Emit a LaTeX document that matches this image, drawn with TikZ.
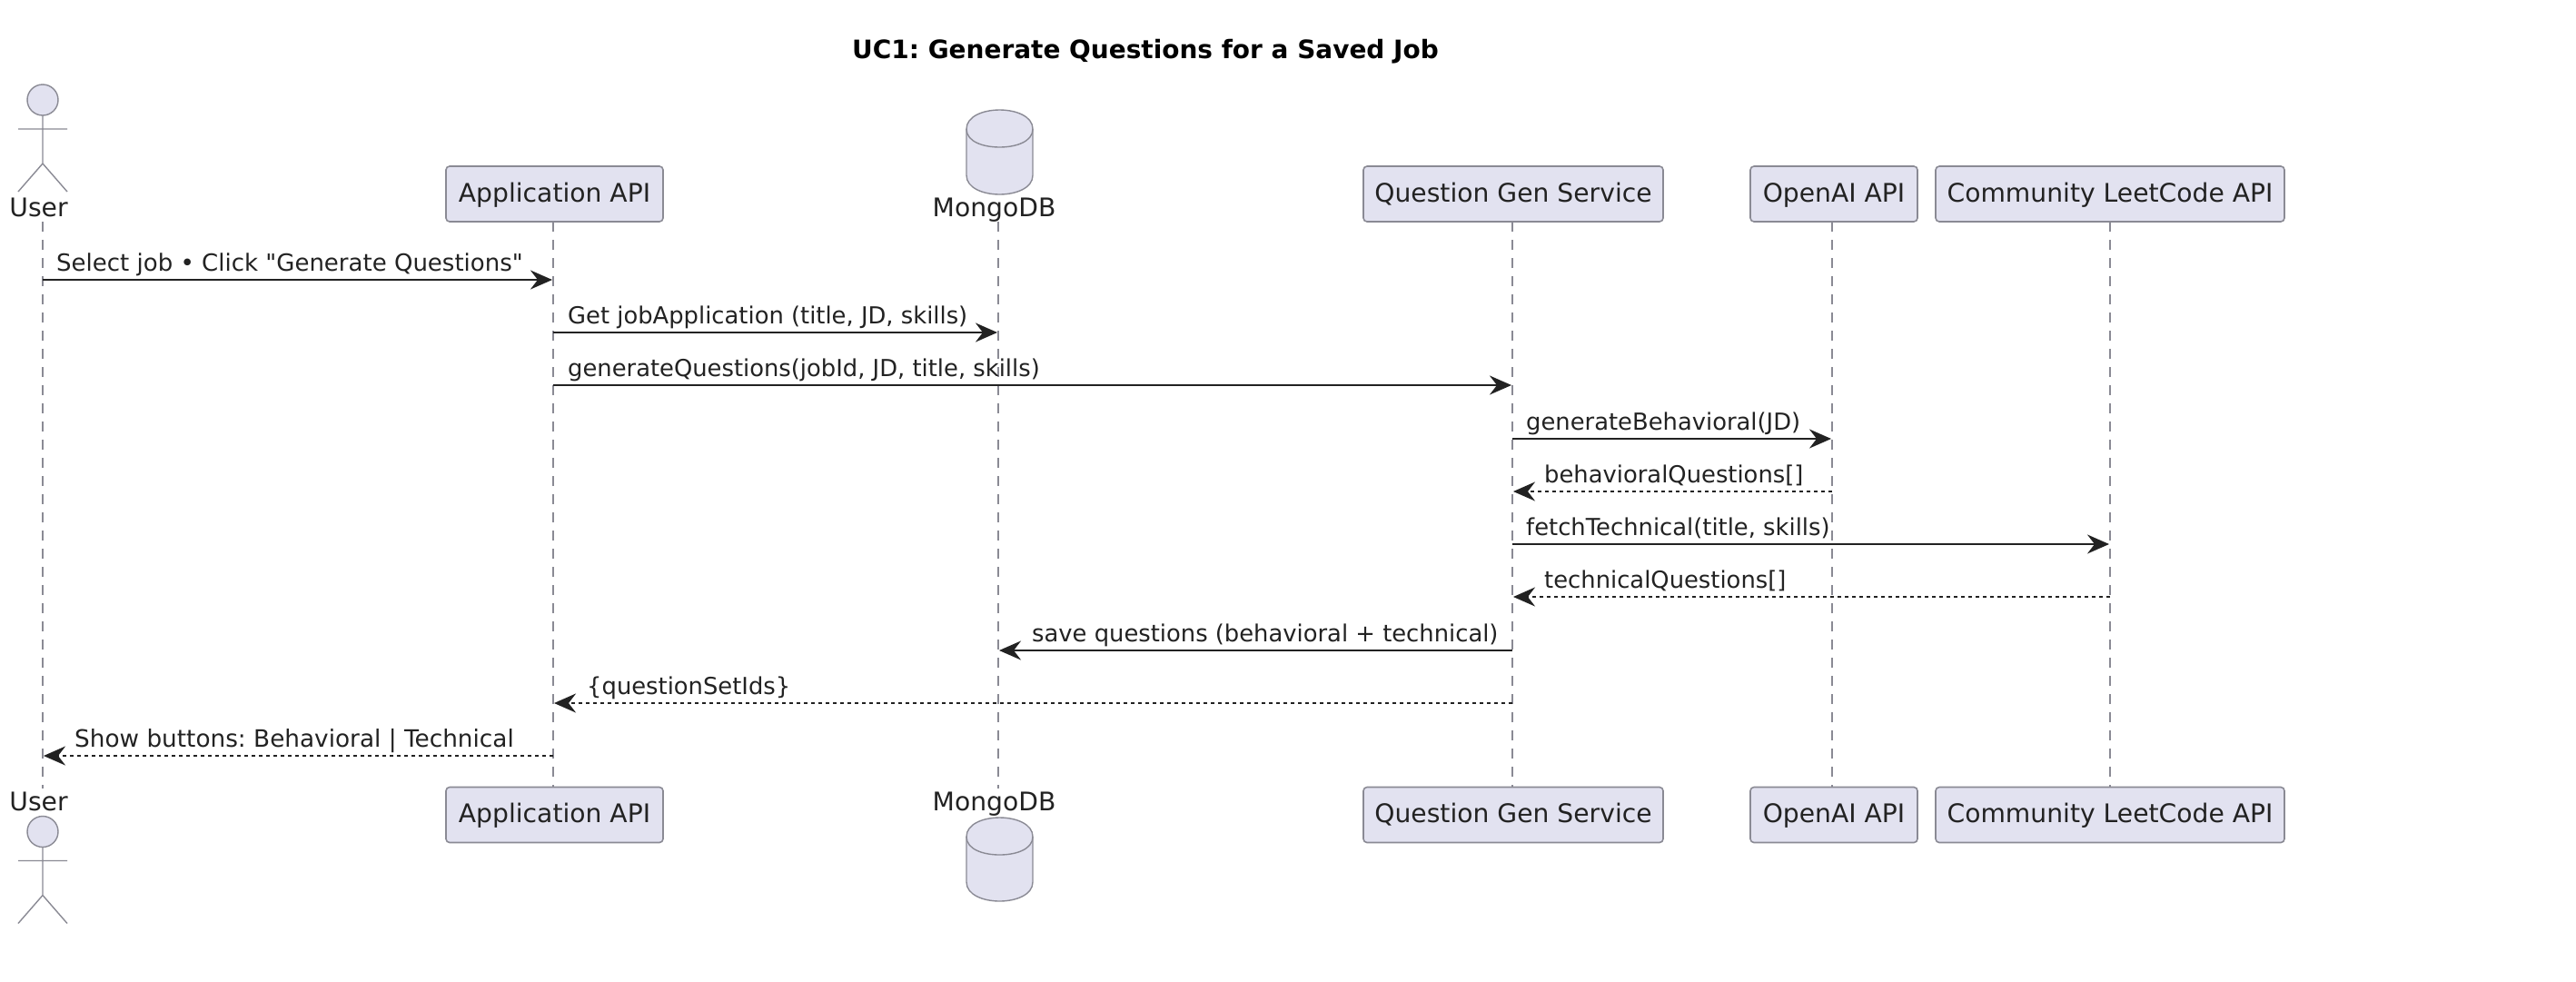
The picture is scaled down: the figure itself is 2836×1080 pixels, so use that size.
\documentclass[tikz,border=0pt]{standalone}
\usepackage{fontspec}
\setmainfont{DejaVu Sans}
\newfontfamily\plainfont{DejaVu Sans}
\usetikzlibrary{arrows.meta}
\definecolor{pfill}{HTML}{E2E2F0}
\definecolor{pline}{HTML}{222222}
\definecolor{pgrey}{HTML}{8A8A94}
\tikzset{
  x=1pt,y=-1pt,
  pbox/.style={draw=pgrey,line width=1.6pt,fill=pfill,rounded corners=4pt,inner sep=0pt,
    font=\fontsize{28.2pt}{32pt}\selectfont\plainfont,text=pline,text height=19pt,text depth=2pt,minimum height=61pt},
  plabel/.style={inner sep=0pt,anchor=base,font=\fontsize{28.2pt}{32pt}\selectfont\plainfont,text=pline},
  msg/.style={inner sep=0pt,anchor=base west,font=\fontsize{25.8pt}{30pt}\selectfont\plainfont,text=pline},
  lifeline/.style={draw=pgrey,line width=1.5pt,dash pattern=on 11pt off 9pt},
  shape line/.style={draw=pgrey,line width=1.4pt,fill=pfill},
  call/.style={draw=pline,line width=2pt,-{Stealth[length=24pt,width=21pt,inset=8pt]}},
  reply/.style={call,dash pattern=on 4pt off 4pt},
}
\newcommand{\actorfig}[2]{% x, head centre y
  \draw[shape line] (#1,#2) ellipse (17pt and 17pt);
  \draw[shape line,fill=none] (#1,#2+17) -- (#1,#2+70) (#1-27,#2+32) -- (#1+27,#2+32)
     (#1-27,#2+101) -- (#1,#2+70) -- (#1+27,#2+101);
}
\newcommand{\dbfig}[3]{% x centre, top y, bottom y
  \draw[shape line] (#1-36.5,#2+21) -- (#1-36.5,#3-21)
     .. controls (#1-36.5,#3-7) and (#1-18,#3) .. (#1,#3)
     .. controls (#1+18,#3) and (#1+36.5,#3-7) .. (#1+36.5,#3-21)
     -- (#1+36.5,#2+21)
     .. controls (#1+36.5,#2+7) and (#1+18,#2) .. (#1,#2)
     .. controls (#1-18,#2) and (#1-36.5,#2+7) .. (#1-36.5,#2+21) -- cycle;
  \draw[shape line,fill=none] (#1-36.5,#2+21)
     .. controls (#1-36.5,#2+35) and (#1-18,#2+41) .. (#1,#2+41)
     .. controls (#1+18,#2+41) and (#1+36.5,#2+35) .. (#1+36.5,#2+21);
}
\begin{document}
\begin{tikzpicture}[execute at begin node=\frenchspacing]
\useasboundingbox (0,0) rectangle (2836,1080);
\fill[white] (0,0) rectangle (2836,1080);

\node[inner sep=0pt,anchor=base,font=\fontsize{27.95pt}{32pt}\selectfont\plainfont\bfseries] (title) at (1261,64) {UC1: Generate Questions for a Saved Job};

% lifeline ends
\coordinate (userT) at (47,244);   \coordinate (userB) at (47,868);
\coordinate (appT)  at (609,244);  \coordinate (appB)  at (609,866);
\coordinate (dbT)   at (1099,244); \coordinate (dbB)   at (1099,868);
\coordinate (qT)    at (1665,244); \coordinate (qB)    at (1665,866);
\coordinate (oaT)   at (2017,244); \coordinate (oaB)   at (2017,866);
\coordinate (lcT)   at (2323,244); \coordinate (lcB)   at (2323,866);
\draw[lifeline] (userT) -- (userB);
\draw[lifeline] (appT) -- (appB);
\draw[lifeline] (dbT) -- (dbB);
\draw[lifeline] (qT) -- (qB);
\draw[lifeline] (oaT) -- (oaB);
\draw[lifeline] (lcT) -- (lcB);

% top participants
\actorfig{47}{110}
\node[plabel] (userTop) at (42.5,238) {User};
\dbfig{1100.5}{121}{214}
\node[plabel] (dbTop) at (1094.5,238) {MongoDB};
\node[pbox,minimum width=239pt] (appBoxT) at (610.5,213.5) {Application API};
\node[pbox,minimum width=330pt] (qBoxT) at (1666,213.5) {Question Gen Service};
\node[pbox,minimum width=184pt] (oaBoxT) at (2019,213.5) {OpenAI API};
\node[pbox,minimum width=384pt] (lcBoxT) at (2323,213.5) {Community LeetCode API};

% bottom participants
\node[plabel] (userBot) at (42.5,892.5) {User};
\actorfig{47}{915.5}
\node[plabel] (dbBot) at (1094.5,892.5) {MongoDB};
\dbfig{1100.5}{900}{992}
\node[pbox,minimum width=239pt] (appBoxB) at (610.5,897) {Application API};
\node[pbox,minimum width=330pt] (qBoxB) at (1666,897) {Question Gen Service};
\node[pbox,minimum width=184pt] (oaBoxB) at (2019,897) {OpenAI API};
\node[pbox,minimum width=384pt] (lcBoxB) at (2323,897) {Community LeetCode API};

% messages
\coordinate (a1s) at (47,308);    \coordinate (a1e) at (608,308);
\coordinate (a2s) at (609,366);   \coordinate (a2e) at (1098,366);
\coordinate (a3s) at (609,424);   \coordinate (a3e) at (1664,424);
\coordinate (a4s) at (1665,483);  \coordinate (a4e) at (2016,483);
\coordinate (a5s) at (2017,541);  \coordinate (a5e) at (1666,541);
\coordinate (a6s) at (1665,599);  \coordinate (a6e) at (2322,599);
\coordinate (a7s) at (2323,657);  \coordinate (a7e) at (1666,657);
\coordinate (a8s) at (1665,716);  \coordinate (a8e) at (1100,716);
\coordinate (a9s) at (1665,774);  \coordinate (a9e) at (610,774);
\coordinate (a10s) at (609,832);  \coordinate (a10e) at (48,832);
\draw[call] (a1s) -- (a1e);
\draw[call] (a2s) -- (a2e);
\draw[call] (a3s) -- (a3e);
\draw[call] (a4s) -- (a4e);
\draw[reply] (a5s) -- (a5e);
\draw[call] (a6s) -- (a6e);
\draw[reply] (a7s) -- (a7e);
\draw[call] (a8s) -- (a8e);
\draw[reply] (a9s) -- (a9e);
\draw[reply] (a10s) -- (a10e);
\node[msg,font=\fontsize{26pt}{30pt}\selectfont\plainfont] (m1) at (62,298.5) {Select job • Click "Generate Questions"};
\node[msg] (m2) at (625,356.5) {Get jobApplication (title, JD, skills)};
\node[msg] (m3) at (625,414.5) {generateQuestions(jobId, JD, title, skills)};
\node[msg] (m4) at (1680,473.5) {generateBehavioral(JD)};
\node[msg] (m5) at (1700,531.5) {behavioralQuestions[]};
\node[msg] (m6) at (1680,589.5) {fetchTechnical(title, skills)};
\node[msg] (m7) at (1700,647.5) {technicalQuestions[]};
\node[msg] (m8) at (1136,706.5) {save questions (behavioral + technical)};
\node[msg] (m9) at (646,764.5) {\{questionSetIds\}};
\node[msg,font=\fontsize{26.3pt}{30pt}\selectfont\plainfont] (m10) at (82,822.5) {Show buttons: Behavioral | Technical};
\end{tikzpicture}
\end{document}
